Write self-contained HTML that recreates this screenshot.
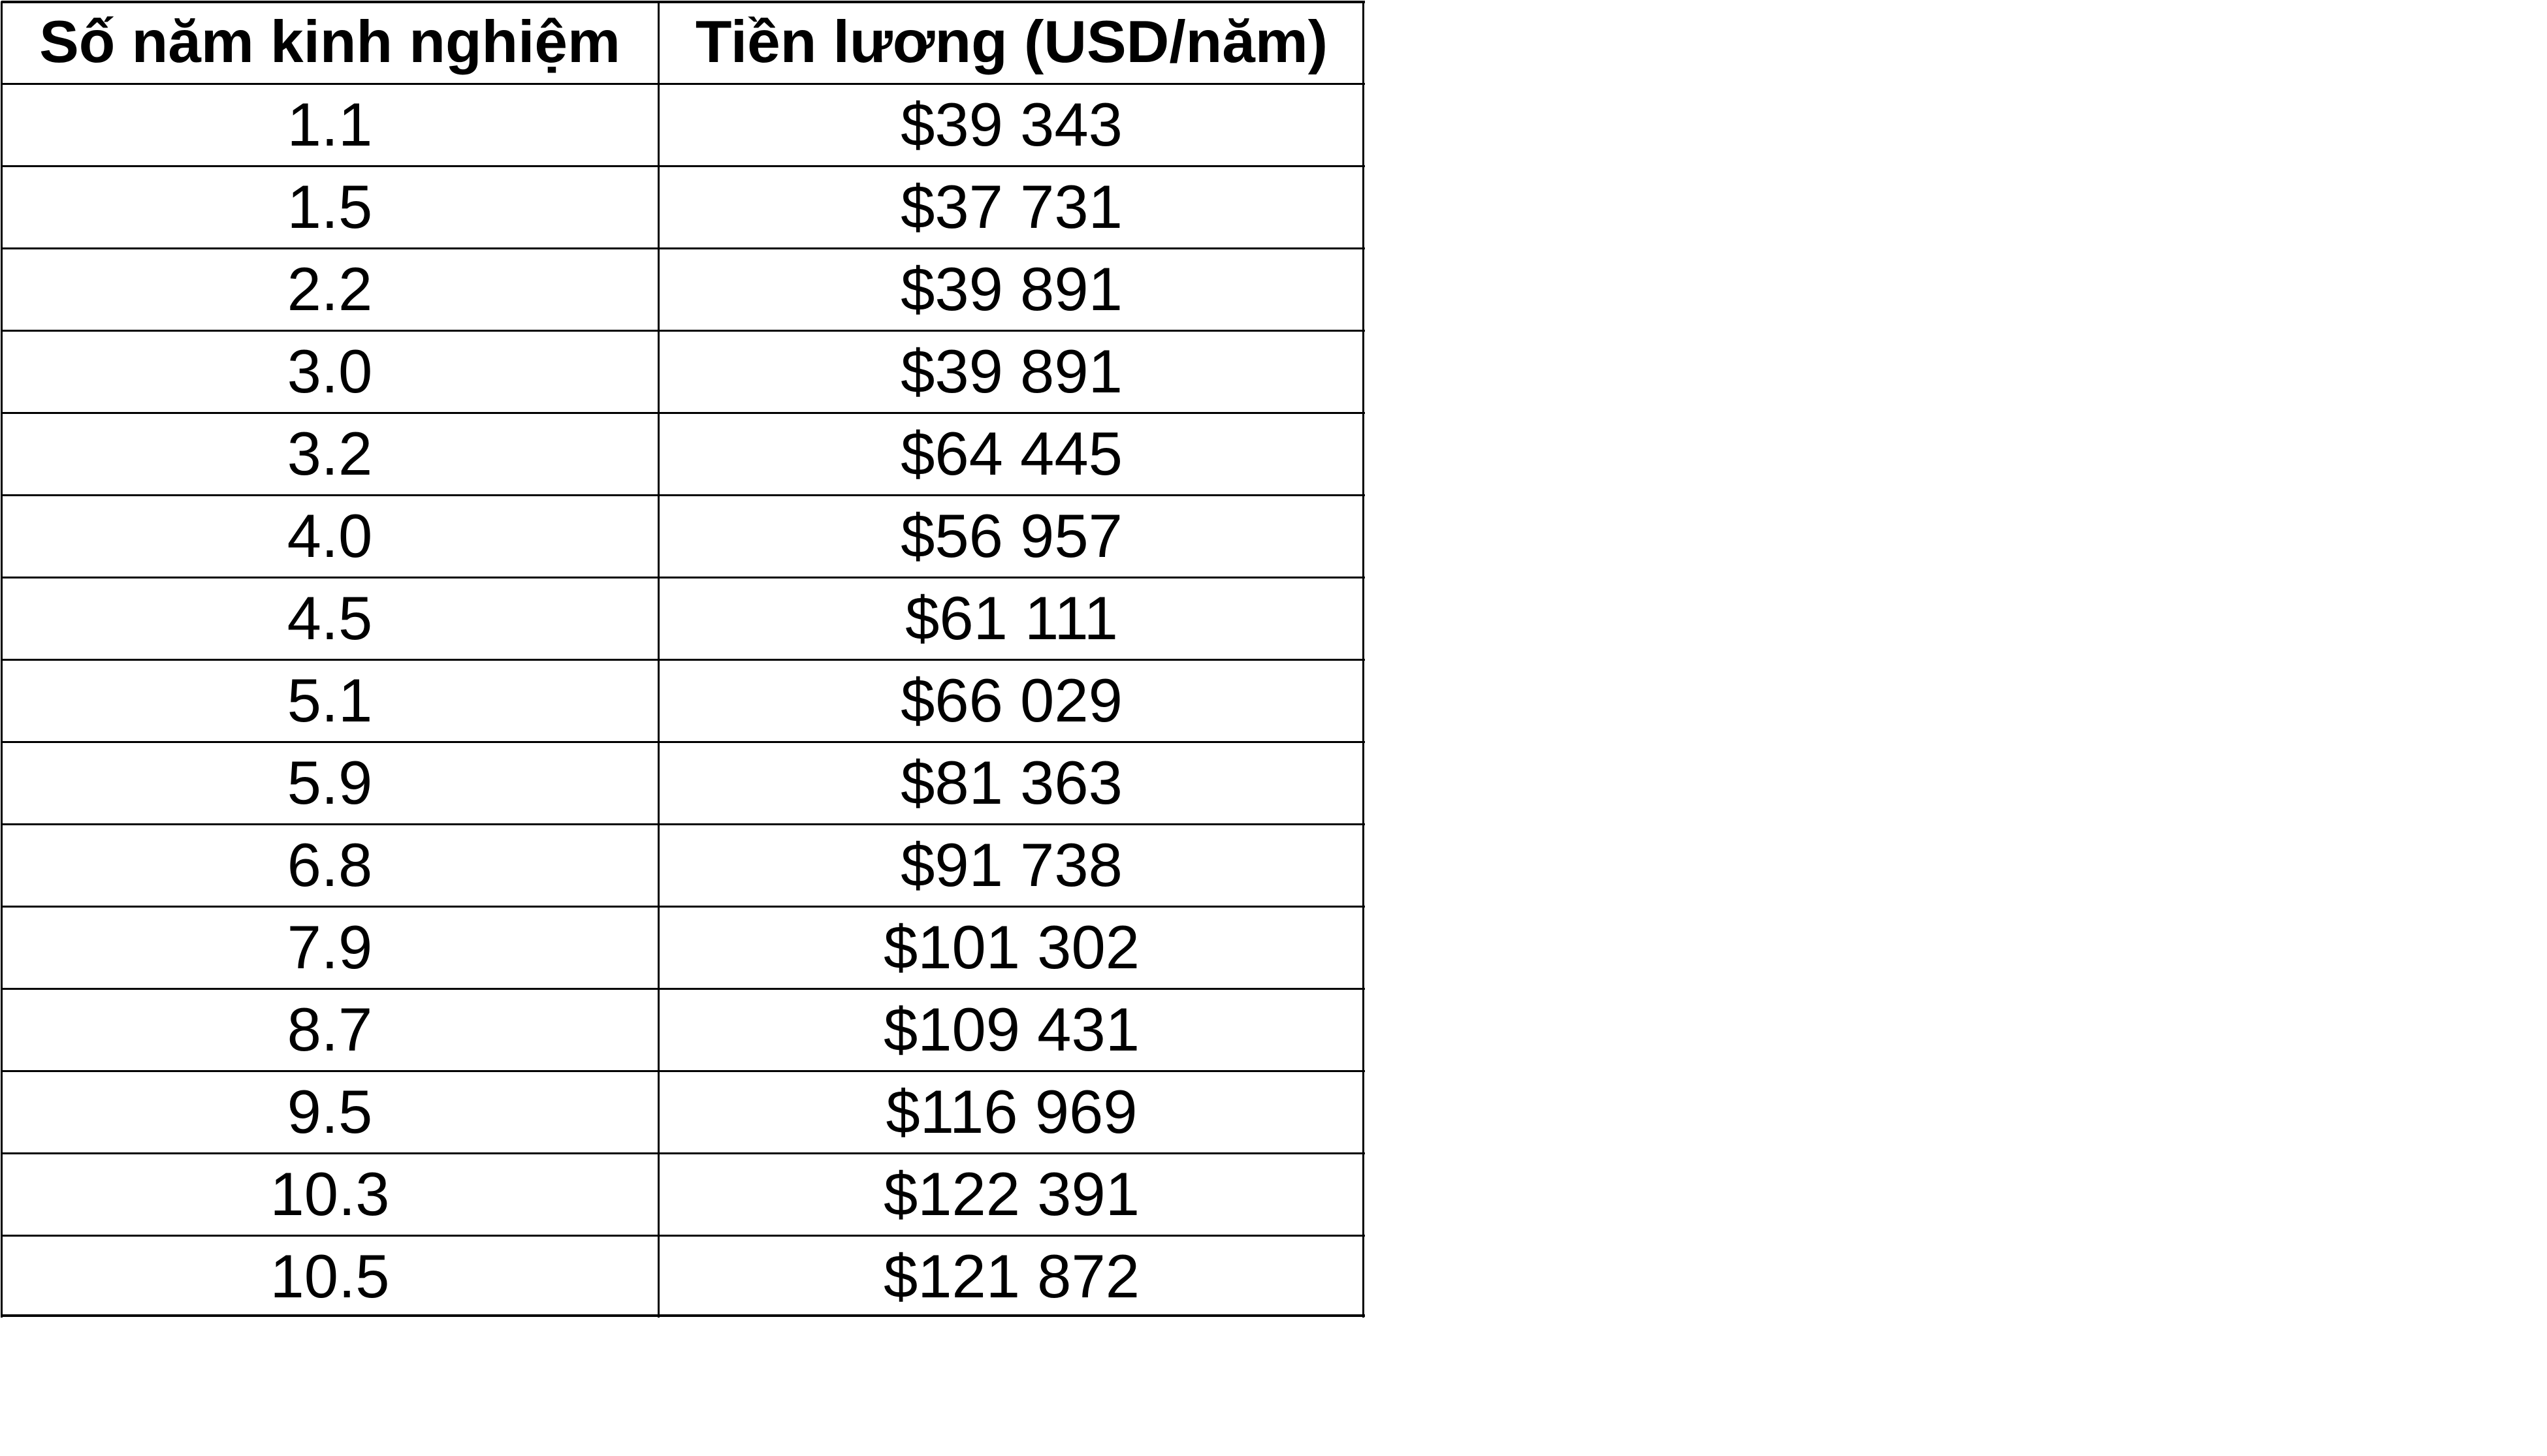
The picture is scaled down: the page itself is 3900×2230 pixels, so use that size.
<!DOCTYPE html>
<html><head><meta charset="utf-8"><style>
html,body{margin:0;padding:0;background:#fff;}
body{width:3900px;height:2230px;position:relative;overflow:hidden;font-family:"Liberation Sans","Noto Sans CJK SC",sans-serif;color:#000;}
#tbl{position:absolute;left:2px;top:2px;width:2088px;height:2016px;}
.cell{position:absolute;display:flex;align-items:center;justify-content:center;font-size:94px;white-space:pre;}
.hdr{font-weight:bold;font-size:91px;}
.hl{position:absolute;left:0;width:2088px;height:3px;background:#000;}
.vl{position:absolute;top:0;width:3px;height:2016px;background:#000;}
</style></head><body>
<div id="tbl"></div>
<script>
const years = ["1.1","1.5","2.2","3.0","3.2","4.0","4.5","5.1","5.9","6.8","7.9","8.7","9.5","10.3","10.5"];
const salaries = ["$39 343","$37 731","$39 891","$39 891","$64 445","$56 957","$61 111","$66 029","$81 363","$91 738","$101 302","$109 431","$116 969","$122 391","$121 872"];
const headers = ["Số năm kinh nghiệm","Tiền lương (USD/năm)"];
const t = document.getElementById('tbl');
const W = 2088, H = 2016, colX = 1006, nRows = years.length + 1, rh = H / nRows;
function cell(x, y, w, h, txt, cls, name) {
  const d = document.createElement('div');
  d.className = 'cell ' + cls;
  d.style.left = x + 'px'; d.style.top = y + 'px'; d.style.width = w + 'px'; d.style.height = h + 'px';
  d.textContent = txt;
  
  
  t.appendChild(d);
}
cell(0, 0, colX, rh, headers[0], 'hdr', 'header-years');
cell(colX, 0, W - colX, rh, headers[1], 'hdr', 'header-salary');
years.forEach((y, i) => {
  cell(0, rh * (i + 1), colX, rh, y, '', 'years-cell');
  cell(colX, rh * (i + 1), W - colX, rh, salaries[i], '', 'salary-cell');
});
for (let i = 0; i <= nRows; i++) {
  const l = document.createElement('div');
  l.className = 'hl';
  l.style.top = (Math.min(rh * i, H - 4) - 1) + 'px';
  if (i === 0 || i === nRows) l.style.height = '4px';
  
  
  t.appendChild(l);
}
[0, colX, W - 3].forEach(x => {
  const v = document.createElement('div');
  v.className = 'vl';
  v.style.left = (x - 1) + 'px';
  
  
  t.appendChild(v);
});
</script>
</body></html>
